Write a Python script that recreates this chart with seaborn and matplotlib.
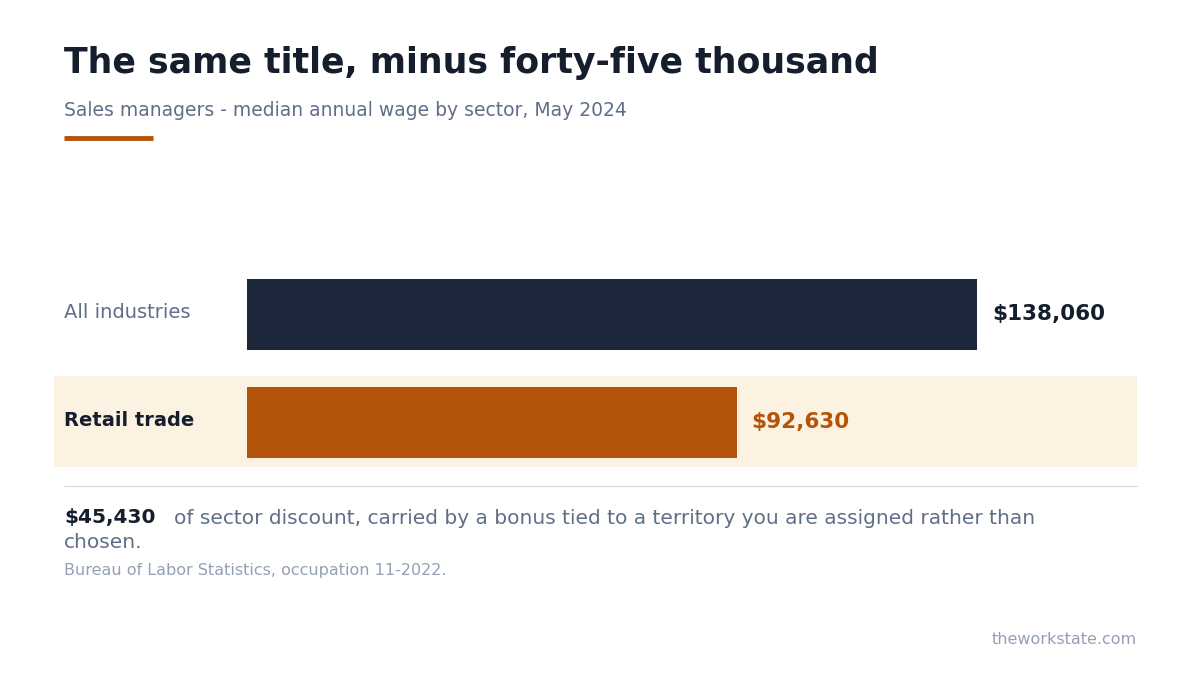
import matplotlib
matplotlib.use("Agg")
import matplotlib.pyplot as plt
import seaborn as sns
import pandas as pd
from matplotlib.patches import Rectangle

sectors = ["All industries", "Retail trade"]
wages = [138060, 92630]
value_labels = ["$138,060", "$92,630"]
bar_colors = ["#1c273c", "#b4540a"]

sns.set_theme(style="white")
plt.rcParams['font.family'] = ['DejaVu Sans']

W, H = 1200, 675
fig = plt.figure(figsize=(12, 6.75), dpi=100)
def fx(x): return x / W
def fy(y): return 1 - y / H

# highlight band in a background axes
bg = fig.add_axes([0, 0, 1, 1], zorder=0)
bg.set_xlim(0, 1); bg.set_ylim(0, 1); bg.axis("off")
bg.add_patch(Rectangle((fx(54), fy(467)), fx(1137) - fx(54), (467 - 376) / H,
                       color="#fcf2e2", lw=0))

ax = fig.add_axes([fx(247), fy(484), fx(1137) - fx(247), (484 - 259) / H], zorder=2)
ax.patch.set_alpha(0)
df = pd.DataFrame({"sector": sectors, "wage": wages})
sns.barplot(data=df, y="sector", x="wage", hue="sector", palette=bar_colors,
            legend=False, ax=ax, width=0.657, saturation=1, linewidth=0)
ax.set_xlim(0, 890 / 730 * 138060)
ax.set_ylim(1.57, -0.51)
ax.axis("off")
for i, (w, lab, c) in enumerate(zip(wages, value_labels, ["#141e2d", "#b4540a"])):
    ax.text(w + 2800, i, lab, va="center", ha="left", fontsize=15.5, fontweight="bold", color=c)

fig.text(fx(64), fy(313), "All industries", fontsize=14, color="#5f6f87", va="center")
fig.text(fx(64), fy(421), "Retail trade", fontsize=14, fontweight="bold", color="#141e2d", va="center")

fig.text(fx(64), fy(63), "The same title, minus forty-five thousand", fontsize=25,
         fontweight="bold", color="#141e2d", va="center")
fig.text(fx(64), fy(110), "Sales managers - median annual wage by sector, May 2024",
         fontsize=13.5, color="#5f6f87", va="center")
fig.add_artist(plt.Line2D([fx(64), fx(153)], [fy(138), fy(138)], color="#b4540a", lw=3.5,
                          solid_capstyle="butt", transform=fig.transFigure))
fig.add_artist(plt.Line2D([fx(64), fx(1137)], [fy(486), fy(486)], color="#d0d8de", lw=0.8,
                          transform=fig.transFigure))
fig.text(fx(64), fy(518), "$45,430", fontsize=14.5, fontweight="bold", color="#141e2d", va="center")
fig.text(fx(174), fy(518), "of sector discount, carried by a bonus tied to a territory you are assigned rather than",
         fontsize=14.5, color="#5f6f87", va="center")
fig.text(fx(64), fy(543), "chosen.", fontsize=14.5, color="#5f6f87", va="center")
fig.text(fx(64), fy(571), "Bureau of Labor Statistics, occupation 11-2022.", fontsize=11.5,
         color="#94a0b4", va="center")
fig.text(fx(1137), fy(640), "theworkstate.com", fontsize=11.5, color="#94a0b4", va="center", ha="right")

fig.savefig("out.png", dpi=100, facecolor="white")
